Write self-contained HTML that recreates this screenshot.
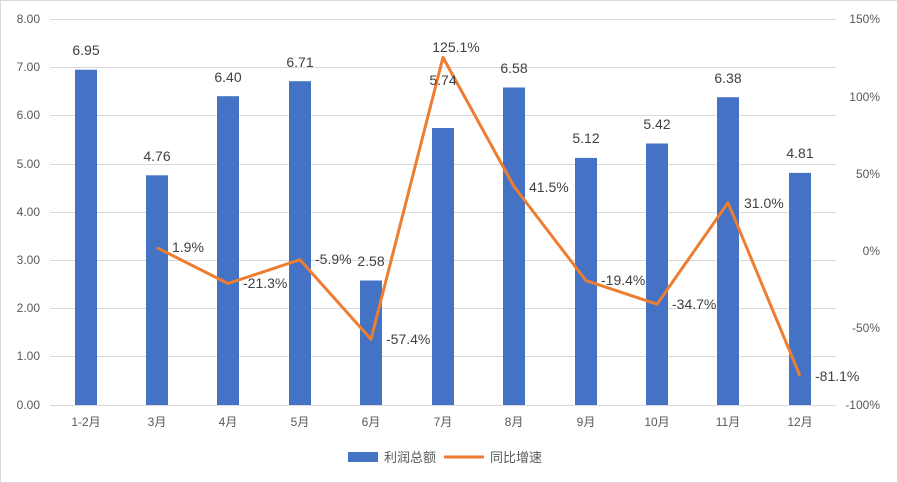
<!DOCTYPE html>
<html><head><meta charset="utf-8"><style>
body{margin:0;background:#fff;}
svg{display:block;font-family:"Liberation Sans","Noto Sans CJK SC",sans-serif;}
</style></head><body>
<svg width="898" height="483" viewBox="0 0 898 483">
<rect x="0.5" y="0.5" width="897" height="482" fill="#fff" stroke="#d9d9d9"/>
<g stroke="#d9d9d9" stroke-width="1">
<line x1="50" x2="836" y1="19.5" y2="19.5"/><line x1="50" x2="836" y1="67.5" y2="67.5"/>
<line x1="50" x2="836" y1="115.5" y2="115.5"/><line x1="50" x2="836" y1="164.5" y2="164.5"/>
<line x1="50" x2="836" y1="212.5" y2="212.5"/><line x1="50" x2="836" y1="260.5" y2="260.5"/>
<line x1="50" x2="836" y1="308.5" y2="308.5"/><line x1="50" x2="836" y1="356.5" y2="356.5"/>
<line x1="50" x2="836" y1="405.5" y2="405.5"/>
</g>
<g font-size="12" fill="#595959" text-anchor="end">
<text x="40" y="23">8.00</text><text x="40" y="71">7.00</text><text x="40" y="119">6.00</text>
<text x="40" y="168">5.00</text><text x="40" y="216">4.00</text><text x="40" y="264">3.00</text>
<text x="40" y="312">2.00</text><text x="40" y="360">1.00</text><text x="40" y="409">0.00</text>
</g>
<g font-size="12" fill="#595959" text-anchor="end">
<text x="880" y="23">150%</text><text x="880" y="101">100%</text><text x="880" y="178">50%</text>
<text x="880" y="255">0%</text><text x="880" y="332">-50%</text><text x="880" y="409">-100%</text>
</g>
<g fill="#4472c4">
<rect x="75" y="69.7" width="22" height="335.3"/><rect x="146" y="175.3" width="22" height="229.7"/>
<rect x="217" y="96.2" width="22" height="308.8"/><rect x="289" y="81.2" width="22" height="323.8"/>
<rect x="360" y="280.5" width="22" height="124.5"/><rect x="432" y="128" width="22" height="277"/>
<rect x="503" y="87.5" width="22" height="317.5"/><rect x="575" y="157.9" width="22" height="247.1"/>
<rect x="646" y="143.5" width="22" height="261.5"/><rect x="717" y="97.2" width="22" height="307.8"/>
<rect x="789" y="172.9" width="22" height="232.1"/>
</g>
<g font-size="12" fill="#595959" text-anchor="middle">
<text x="86" y="426">1-2月</text><text x="157" y="426">3月</text><text x="228" y="426">4月</text>
<text x="300" y="426">5月</text><text x="371" y="426">6月</text><text x="443" y="426">7月</text>
<text x="514" y="426">8月</text><text x="586" y="426">9月</text><text x="657" y="426">10月</text>
<text x="728" y="426">11月</text><text x="800" y="426">12月</text>
</g>
<polyline fill="none" stroke="#ed7d31" stroke-width="3" stroke-linejoin="round" points="157,247.7 228,283.5 300,259.7 371,339.2 443,57.4 514,186.5 586,280.6 657,304.2 728,202.7 800,375.8"/>
<g font-size="14" fill="#404040" text-anchor="middle">
<text x="86" y="55">6.95</text><text x="157" y="161">4.76</text><text x="228" y="82">6.40</text>
<text x="300" y="67">6.71</text><text x="371" y="266">2.58</text><text x="443" y="85">5.74</text>
<text x="514" y="73">6.58</text><text x="586" y="143">5.12</text><text x="657" y="129">5.42</text>
<text x="728" y="83">6.38</text><text x="800" y="158">4.81</text>
<text x="456" y="52">125.1%</text>
</g>
<g font-size="14" fill="#404040">
<text x="172" y="252">1.9%</text><text x="243" y="288">-21.3%</text><text x="315" y="264">-5.9%</text>
<text x="386" y="344">-57.4%</text><text x="529" y="192">41.5%</text><text x="601" y="285">-19.4%</text>
<text x="672" y="309">-34.7%</text><text x="744" y="208">31.0%</text><text x="815" y="381">-81.1%</text>
</g>
<rect x="348" y="452" width="30" height="10" fill="#4472c4"/>
<text x="384" y="462" font-size="13" fill="#595959">利润总额</text>
<line x1="444" x2="484" y1="457" y2="457" stroke="#ed7d31" stroke-width="3"/>
<text x="490" y="462" font-size="13" fill="#595959">同比增速</text>
</svg>
</body></html>
